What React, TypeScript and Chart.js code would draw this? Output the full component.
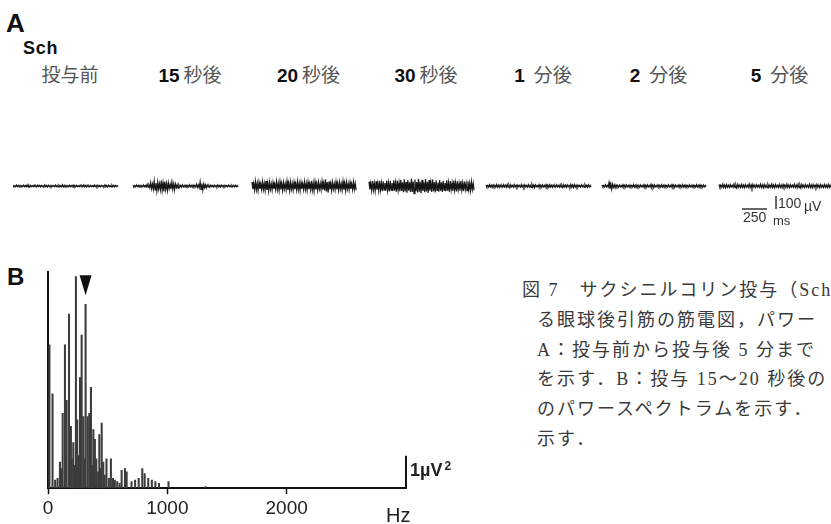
import React, { useEffect, useRef } from "react";
import { Chart, registerables } from "chart.js";

Chart.register(...registerables);

// ---------------- Panel A : EMG traces ----------------
const TRACE_NUMBERS = ["", "15", "20", "30", "1", "2", "5"];
const TRACE_UNITS = ["投与前", "秒後", "秒後", "秒後", "分後", "分後", "分後"];
const TRACE_START_MS = [0, 1200, 2390, 3560, 4730, 5890, 7060];
const TRACE_LENGTH_MS = [1060, 1060, 1050, 1060, 1060, 1050, 1130];

// half amplitude (µV) of the EMG deflections
const AMP_BEFORE = [5, 7, 5, 6, 8, 5, 6, 7, 5, 8, 6, 5, 7, 6, 9, 5, 6, 7, 5, 6, 8, 6, 5, 7, 6, 5, 8, 6, 7, 5];
const AMP_15S = [6, 7, 6, 8, 12, 26, 38, 30, 42, 34, 24, 30, 16, 9, 8, 7, 9, 8, 14, 32, 16, 8, 7, 6, 8, 7, 6, 7, 6, 6];
const AMP_20S = [30, 36, 28, 34, 38, 31, 27, 35, 33, 29, 37, 32, 30, 36, 28, 34, 31, 39, 33, 30, 35, 52, 34, 29, 33, 31, 36, 30, 28, 32];
const AMP_30S = [34, 38, 36, 40, 37, 42, 39, 44, 41, 48, 52, 46, 58, 50, 55, 47, 53, 45, 49, 43, 46, 40, 44, 38, 41, 36, 39, 35, 37, 33];
const AMP_1MIN = [8, 10, 9, 11, 8, 10, 12, 9, 10, 8, 11, 9, 10, 12, 8, 10, 9, 11, 10, 8, 9, 11, 10, 9, 12, 10, 8, 9, 10, 9];
const AMP_2MIN = [7, 9, 26, 14, 9, 8, 10, 9, 8, 11, 9, 8, 10, 9, 12, 8, 9, 10, 8, 9, 11, 8, 9, 10, 8, 9, 8, 10, 9, 8];
const AMP_5MIN = [11, 14, 12, 10, 15, 12, 13, 11, 16, 12, 10, 14, 13, 12, 15, 11, 13, 12, 14, 10, 13, 15, 12, 11, 14, 12, 13, 11, 12, 13];
const TRACE_AMPLITUDES_UV = [AMP_BEFORE, AMP_15S, AMP_20S, AMP_30S, AMP_1MIN, AMP_2MIN, AMP_5MIN];

const TIME_BAR_MS = 250;
const VOLT_BAR_UV = 100;
const TIME_BAR_START_MS = 7290;
const VOLT_BAR_AT_MS = 7630;
const BARS_BASE_UV = -177;
const PANEL_A_MAX_MS = 8180;
const PANEL_A_RANGE_UV = 354;

// ---------------- Panel B : power spectrum ----------------
const SPEC_HZ = [12, 38, 60, 80, 100, 110, 123, 142, 156, 176, 192, 200, 212, 220, 234, 245, 255, 268, 282, 296, 305, 315, 332, 346, 360, 370, 380, 393, 405, 420, 430, 440, 450, 463, 475, 490, 510, 527, 545, 560, 580, 600, 617, 645, 659, 700, 730, 760, 790, 810, 840, 870, 900, 930, 1010, 1320];
const SPEC_POWER = [4.4, 2.9, 0.25, 0.3, 0.8, 0.6, 2.3, 4.4, 2.7, 5.35, 1.9, 0.9, 1.4, 0.7, 6.5, 2.1, 1.0, 3.4, 4.7, 2.2, 0.9, 5.65, 2.2, 2.3, 3.1, 0.7, 1.8, 1.5, 0.9, 0.5, 1.65, 0.6, 2.0, 0.8, 0.4, 0.9, 0.3, 0.9, 0.3, 0.25, 0.2, 0.15, 0.55, 0.6, 0.5, 0.2, 0.25, 0.3, 0.6, 0.45, 0.3, 0.25, 0.2, 0.15, 0.2, 0.05];
const PEAK_HZ = 315;
const X_TICKS_HZ = [0, 1000, 2000, 3000];
const AXIS_MAX_HZ = 3000;
const AXIS_MAX_POWER = 6.64;
const SCALE_POWER = 1;

const CAPTION_LINES = [
  "図 7　サクシニルコリン投与（Sch",
  "る眼球後引筋の筋電図，パワー",
  "A：投与前から投与後 5 分まで",
  "を示す．B：投与 15～20 秒後の",
  "のパワースペクトラムを示す．",
  "示す．",
];

const INK = "#161616";
const SANS = '"Liberation Sans", Arial, "Noto Sans CJK JP", sans-serif';

const PANEL_A_LEFT = 13;
const PANEL_A_W = 831;
const PX_PER_MS = (PANEL_A_W - PANEL_A_LEFT) / PANEL_A_MAX_MS;

function TracesChart() {
  const ref = useRef<HTMLCanvasElement | null>(null);
  useEffect(() => {
    if (!ref.current) return;
    const datasets: any[] = [];
    TRACE_AMPLITUDES_UV.forEach((amp, i) => {
      const step = TRACE_LENGTH_MS[i] / amp.length;
      const pts: { x: number; y: number }[] = [];
      amp.forEach((a, k) => {
        const t = TRACE_START_MS[i] + k * step;
        pts.push({ x: t, y: a });
        pts.push({ x: t + step * 0.25, y: -a * 0.8 });
        pts.push({ x: t + step * 0.5, y: a * 0.6 });
        pts.push({ x: t + step * 0.75, y: -a });
      });
      datasets.push({
        data: pts,
        borderColor: INK,
        borderWidth: 1.2,
        pointRadius: 0,
        fill: false,
      });
    });
    datasets.push({
      data: [
        { x: TIME_BAR_START_MS, y: BARS_BASE_UV },
        { x: TIME_BAR_START_MS + TIME_BAR_MS, y: BARS_BASE_UV },
      ],
      borderColor: INK,
      borderWidth: 1.3,
      pointRadius: 0,
      fill: false,
    });
    datasets.push({
      data: [
        { x: VOLT_BAR_AT_MS, y: BARS_BASE_UV },
        { x: VOLT_BAR_AT_MS, y: BARS_BASE_UV + VOLT_BAR_UV },
      ],
      borderColor: INK,
      borderWidth: 1.3,
      pointRadius: 0,
      fill: false,
    });
    const chart = new Chart(ref.current, {
      type: "line",
      data: { datasets },
      options: {
        animation: false,
        responsive: false,
        devicePixelRatio: 1,
        layout: { padding: { left: PANEL_A_LEFT, right: 0, top: 0, bottom: 0 } },
        elements: { line: { tension: 0 } },
        plugins: { legend: { display: false }, tooltip: { enabled: false } },
        scales: {
          x: { type: "linear", display: false, min: 0, max: PANEL_A_MAX_MS },
          y: { display: false, min: -PANEL_A_RANGE_UV, max: PANEL_A_RANGE_UV },
        },
      },
    });
    return () => chart.destroy();
  }, []);
  return (
    <canvas
      ref={ref}
      width={PANEL_A_W}
      height={92}
      style={{ position: "absolute", left: 0, top: 140, width: PANEL_A_W, height: 92 }}
    />
  );
}

const peakArrow = {
  id: "peakArrow",
  afterDatasetsDraw(chart: any) {
    const { ctx, scales } = chart;
    const idx = SPEC_HZ.indexOf(PEAK_HZ);
    const px = scales.x.getPixelForValue(PEAK_HZ);
    const tip = scales.y.getPixelForValue(SPEC_POWER[idx]) - 9;
    ctx.save();
    ctx.fillStyle = "#111";
    ctx.beginPath();
    ctx.moveTo(px, tip);
    ctx.lineTo(px - 6, tip - 20);
    ctx.lineTo(px + 6, tip - 20);
    ctx.closePath();
    ctx.fill();
    ctx.restore();
  },
};

function SpectrumChart() {
  const ref = useRef<HTMLCanvasElement | null>(null);
  useEffect(() => {
    if (!ref.current) return;
    const chart = new Chart(ref.current, {
      type: "bar",
      data: {
        datasets: [
          {
            type: "bar",
            data: SPEC_HZ.map((h, i) => ({ x: h, y: SPEC_POWER[i] })),
            backgroundColor: "#3c3c3c",
            barThickness: 1.4,
          } as any,
          {
            type: "line",
            data: [
              { x: AXIS_MAX_HZ, y: 0 },
              { x: AXIS_MAX_HZ, y: SCALE_POWER },
            ],
            borderColor: "#111",
            borderWidth: 2,
            pointRadius: 0,
            fill: false,
            clip: false,
          } as any,
        ],
      },
      options: {
        animation: false,
        responsive: false,
        devicePixelRatio: 1,
        layout: { padding: { left: 48, right: 64, top: 12, bottom: 0 } },
        plugins: { legend: { display: false }, tooltip: { enabled: false } },
        scales: {
          x: {
            type: "linear",
            min: 0,
            max: AXIS_MAX_HZ,
            offset: false,
            afterBuildTicks: (axis: any) => {
              axis.ticks = X_TICKS_HZ.map((v) => ({ value: v }));
            },
            ticks: {
              callback: (v: any) => (v === AXIS_MAX_HZ ? "" : String(v)),
              font: { family: "Liberation Sans", size: 19 },
              color: "#222",
              maxRotation: 0,
              autoSkip: false,
              padding: 3,
            },
            grid: {
              display: true,
              offset: false,
              drawOnChartArea: false,
              drawTicks: true,
              tickLength: 6,
              tickWidth: 1.5,
              tickColor: (ctx: any) =>
                ctx.tick && ctx.tick.value === AXIS_MAX_HZ ? "rgba(0,0,0,0)" : "#111",
            },
            border: { display: true, color: "#111", width: 2 },
          },
          y: {
            min: 0,
            max: AXIS_MAX_POWER,
            ticks: { display: false },
            grid: { display: false, drawTicks: false },
            border: { display: true, color: "#111", width: 2 },
          },
        },
      },
      plugins: [peakArrow],
    });
    return () => chart.destroy();
  }, []);
  return (
    <canvas
      ref={ref}
      width={470}
      height={263}
      style={{ position: "absolute", left: 0, top: 260, width: 470, height: 263 }}
    />
  );
}

export default function App() {
  const abs = (left: number, top: number, extra: any = {}) => ({
    position: "absolute" as const,
    left,
    top,
    lineHeight: 1,
    whiteSpace: "nowrap" as const,
    ...extra,
  });
  return (
    <div
      style={{
        position: "absolute",
        left: 0,
        top: 0,
        width: 831,
        height: 524,
        overflow: "hidden",
        background: "#fff",
        fontFamily: SANS,
        color: "#111",
      }}
    >
      <div style={abs(6, 10, { fontSize: 26, fontWeight: "bold" })}>A</div>
      <div style={abs(23, 39, { fontSize: 18, fontWeight: "bold", letterSpacing: 0.8 })}>Sch</div>

      {TRACE_UNITS.map((u, i) => {
        const center = PANEL_A_LEFT + (TRACE_START_MS[i] + TRACE_LENGTH_MS[i] / 2) * PX_PER_MS + 4;
        return (
          <div
            key={i}
            style={abs(center, 64, { fontSize: 19, transform: "translateX(-50%)" })}
          >
            {TRACE_NUMBERS[i] && (
              <span style={{ fontWeight: "bold", color: "#111", marginRight: i >= 4 ? 9 : 4 }}>
                {TRACE_NUMBERS[i]}
              </span>
            )}
            <span style={{ color: "#555", fontFamily: '"Noto Sans CJK JP", sans-serif' }}>{u}</span>
          </div>
        );
      })}

      <TracesChart />

      <div style={abs(743, 210, { fontSize: 14, color: "#333" })}>250</div>
      <div style={abs(773, 214, { fontSize: 13, color: "#333" })}>ms</div>
      <div style={abs(778, 196, { fontSize: 14, color: "#333" })}>100</div>
      <div style={abs(804, 199, { fontSize: 14, color: "#333" })}>µV</div>

      <div style={abs(7, 265, { fontSize: 24, fontWeight: "bold" })}>B</div>

      <SpectrumChart />

      <div style={abs(410, 460, { fontSize: 18, fontWeight: "bold", color: "#222" })}>
        1µV<sup style={{ fontSize: 12, verticalAlign: "6px", marginLeft: 2 }}>2</sup>
      </div>
      <div style={abs(386, 505, { fontSize: 20, color: "#222" })}>Hz</div>

      {CAPTION_LINES.map((line, i) => (
        <div
          key={i}
          style={abs(i === 0 ? 522 : 537, 281 + i * 29.8, {
            fontSize: 18,
            letterSpacing: 2,
            color: "#3a3a3a",
            fontFamily: '"Liberation Serif", "Noto Sans CJK JP", serif',
          })}
        >
          {line}
        </div>
      ))}
    </div>
  );
}
